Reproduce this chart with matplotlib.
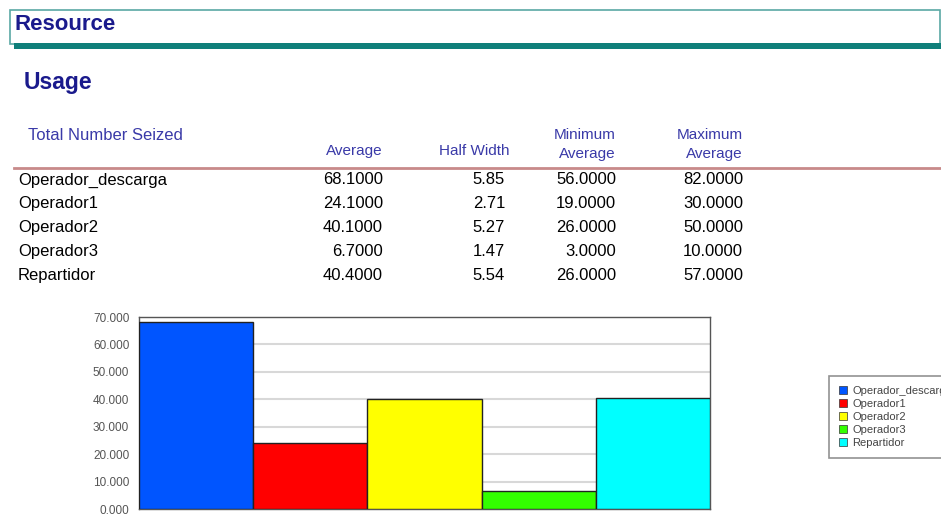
import matplotlib
matplotlib.use("Agg")
import matplotlib.pyplot as plt
from matplotlib.patches import Rectangle, Patch

plt.rcParams['font.family'] = ['Liberation Sans', 'DejaVu Sans']

# --- DATA ---
resources = ["Operador_descarga", "Operador1", "Operador2", "Operador3", "Repartidor"]
average = [68.1000, 24.1000, 40.1000, 6.7000, 40.4000]
half_width = [5.85, 2.71, 5.27, 1.47, 5.54]
min_average = [56.0000, 19.0000, 26.0000, 3.0000, 26.0000]
max_average = [82.0000, 30.0000, 50.0000, 10.0000, 57.0000]
bar_colors = ["#0055ff", "#ff0000", "#ffff00", "#33ff00", "#00ffff"]
y_ticks = [0, 10, 20, 30, 40, 50, 60, 70]

W, H = 941, 514
fig = plt.figure(figsize=(W / 100, H / 100), dpi=100)

NAVY = "#1a1a8c"
HEAD = "#3a3aa8"
TEAL = "#0f7f7a"

def fx(x):
    return x / W

def fy(y):
    return 1 - y / H

# header box "Resource"
fig.patches.append(Rectangle((fx(10), fy(44)), fx(940) - fx(10), fy(10) - fy(44),
                             transform=fig.transFigure, fill=False, ec="#5aa8a4", lw=1.2))
fig.patches.append(Rectangle((fx(14), fy(49)), 1 - fx(14), fy(43) - fy(49),
                             transform=fig.transFigure, fc=TEAL, ec="none"))
fig.text(fx(14), fy(25), "Resource", fontsize=16, fontweight="bold", color=NAVY,
         va="center", ha="left")
fig.text(fx(24), fy(83), "Usage", fontsize=16.5, fontweight="bold", color=NAVY,
         va="center", ha="left")

# table header
hs = 11
fig.text(fx(28), fy(135), "Total Number Seized", fontsize=12, color=HEAD, va="center")
fig.text(fx(383), fy(151), "Average", fontsize=hs, color=HEAD, va="center", ha="right")
fig.text(fx(510), fy(151), "Half Width", fontsize=hs, color=HEAD, va="center", ha="right")
fig.text(fx(616), fy(135), "Minimum", fontsize=hs, color=HEAD, va="center", ha="right")
fig.text(fx(616), fy(154), "Average", fontsize=hs, color=HEAD, va="center", ha="right")
fig.text(fx(743), fy(135), "Maximum", fontsize=hs, color=HEAD, va="center", ha="right")
fig.text(fx(743), fy(154), "Average", fontsize=hs, color=HEAD, va="center", ha="right")
fig.add_artist(plt.Line2D([fx(14), 1], [fy(168), fy(168)], transform=fig.transFigure,
                          color="#c88a8a", lw=2))

# table rows
rs = 12
for i, name in enumerate(resources):
    y = fy(180 + i * 23.8)
    fig.text(fx(18), y, name, fontsize=rs, color="black", va="center")
    fig.text(fx(383), y, f"{average[i]:.4f}", fontsize=rs, va="center", ha="right")
    fig.text(fx(505), y, f"{half_width[i]:.2f}", fontsize=rs, va="center", ha="right")
    fig.text(fx(616), y, f"{min_average[i]:.4f}", fontsize=rs, va="center", ha="right")
    fig.text(fx(743), y, f"{max_average[i]:.4f}", fontsize=rs, va="center", ha="right")

# bar chart
ax = fig.add_axes([fx(139), fy(509), fx(710) - fx(139), fy(317) - fy(509)])
x = list(range(len(resources)))
ax.bar(x, average, width=1.0, color=bar_colors, edgecolor="#222222", linewidth=1, zorder=3)
ax.set_xlim(-0.5, len(resources) - 0.5)
ax.set_ylim(0, 70)
ax.set_yticks(y_ticks)
ax.set_yticklabels([f"{v:.3f}" for v in y_ticks], fontsize=8.5, color="#555555")
ax.set_xticks([])
ax.tick_params(axis="y", length=0, pad=7)
ax.yaxis.grid(True, color="#d8d8d8", lw=1.5, zorder=0)
for s in ax.spines.values():
    s.set_color("#555555")
    s.set_linewidth(1)

# legend
handles = [Patch(facecolor=c, edgecolor="#333333", lw=0.5) for c in bar_colors]
leg = fig.legend(handles, resources, loc="upper left", bbox_to_anchor=(fx(823), fy(370)),
                 fontsize=8, frameon=True, fancybox=False, handlelength=0.75, handleheight=0.75,
                 handletextpad=0.5, labelspacing=0.28, borderpad=0.9, labelcolor="#444444")
leg.get_frame().set_edgecolor("#777777")
leg.get_frame().set_linewidth(1.2)

fig.savefig("out.png", dpi=100)
